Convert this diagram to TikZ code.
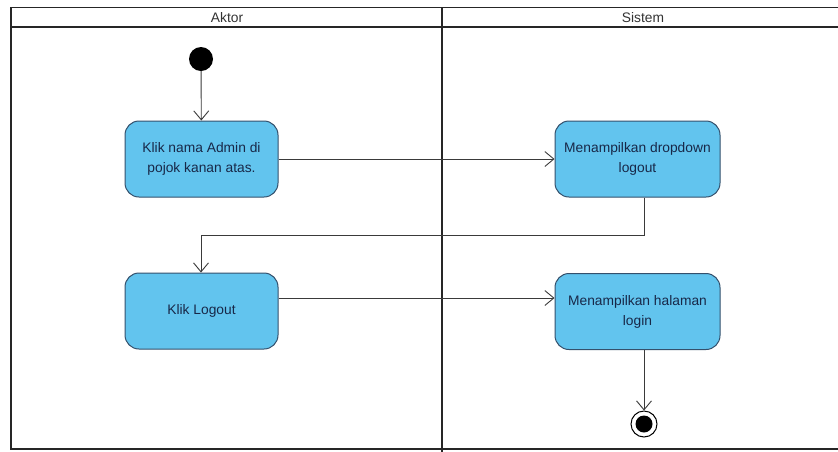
\documentclass[tikz,border=0pt]{standalone}
\usepackage{fontspec}
\setmainfont{Liberation Sans}
\usetikzlibrary{arrows.meta}
\definecolor{actfill}{HTML}{62C4EE}
\definecolor{actborder}{HTML}{34506C}
\definecolor{acttext}{HTML}{182848}
\definecolor{linegray}{HTML}{3A3A3A}
\begin{document}
\begin{tikzpicture}[x=1pt,y=-1pt,
  action/.style={draw=actborder, fill=actfill, rounded corners=14pt, minimum width=153pt, minimum height=76pt, align=center, font=\fontsize{13.8}{20}\selectfont, text=acttext, line width=1pt, inner sep=2pt},
  flow/.style={draw=linegray, line width=0.9pt, -{Straight Barb[length=9pt,width=15pt]}},
  lane/.style={line width=1.8pt, draw=black!85},
  lanetitle/.style={font=\fontsize{13.8}{16}\selectfont, text=black!80}]
\clip (0,0) rectangle (838,451);
\fill[white] (0,0) rectangle (838,451);
% swimlanes
\draw[lane] (845,7.5) -- (11,7.5) -- (11,449) -- (845,449);
\draw[lane] (11,27) -- (845,27);
\draw[lane] (442,7.5) -- (442,452);
\node[lanetitle] (laneA) at (227,17.5) {Aktor};
\node[lanetitle] (laneS) at (643,17.5) {Sistem};
% nodes
\node[circle, fill=black, minimum size=24pt, inner sep=0pt] (start) at (201,59) {};
\node[action] (a1) at (201.5,159) {Klik nama Admin di\\pojok kanan atas.};
\node[action, minimum width=165pt] (a2) at (637.5,159) {Menampilkan dropdown\\logout};
\node[action] (a3) at (201.5,311) {Klik Logout};
\node[action, minimum width=165pt] (a4) at (637.5,311.5) {Menampilkan halaman\\login};
\node[circle, draw=black, fill=white, line width=1pt, minimum size=26pt, inner sep=0pt] (end) at (644,424) {};
\node[circle, fill=black, minimum size=17pt, inner sep=0pt] (endin) at (end) {};
% connectors
\coordinate (c1) at (644,235);
\coordinate (c2) at (201,235);
\coordinate (y298) at (0,298);
\draw[flow] (start) -- (a1);
\draw[flow] (a1.east) -- (a2.west);
\draw[flow] (a2.south -| c1) -- (c1) -- (c2) -- (a3.north -| c2);
\draw[flow] (a3.east |- y298) -- (a4.west |- y298);
\draw[flow] (a4.south -| end) -- (end.north);
\end{tikzpicture}
\end{document}
